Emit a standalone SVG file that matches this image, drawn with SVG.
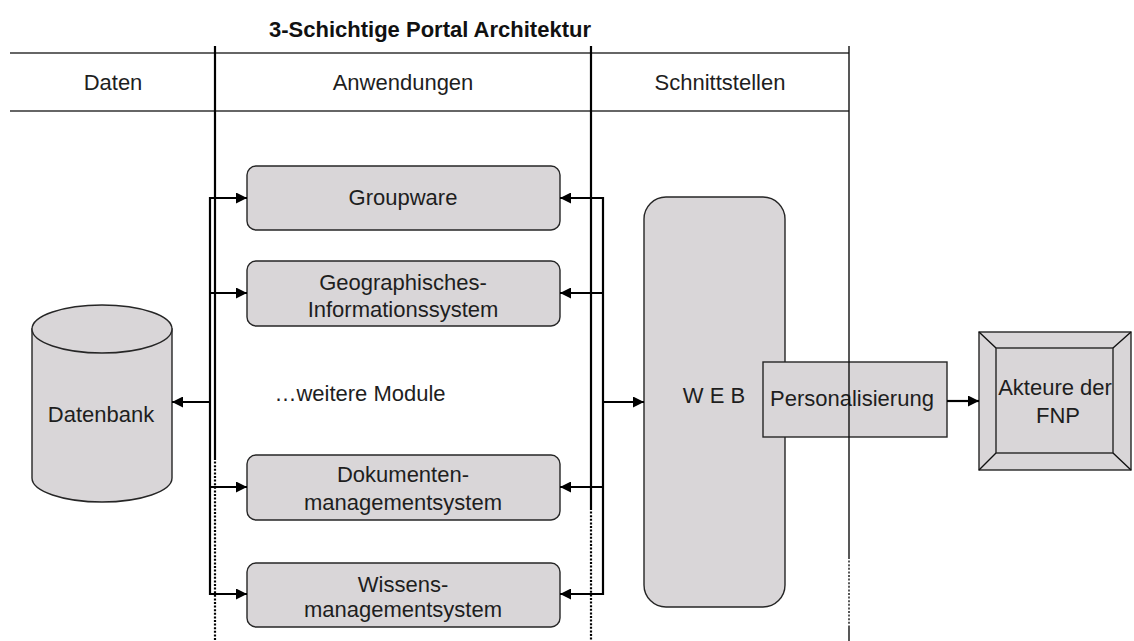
<svg xmlns="http://www.w3.org/2000/svg" width="1134" height="641" viewBox="0 0 1134 641">
  <style>
    text { font-family: "Liberation Sans", Arial, sans-serif; fill: #1e1e1e; }
    .title { font-size: 22px; font-weight: bold; fill: #111; }
    .hdr { font-size: 22px; text-anchor: middle; }
    .lbl { font-size: 22px; text-anchor: middle; }
    .box { fill: #d9d6d8; stroke: #262626; stroke-width: 1.4; }
    .rule { stroke: #333; stroke-width: 1.6; fill: none; }
    .sep { stroke: #000; stroke-width: 2.2; fill: none; }
    .sep-dot { stroke: #000; stroke-width: 2.2; fill: none; stroke-dasharray: 2 1.6; }
    .thin { stroke: #111; stroke-width: 1.4; fill: none; }
    .thin-dot { stroke: #111; stroke-width: 1.4; fill: none; stroke-dasharray: 2 1.6; }
    .bus { stroke: #000; stroke-width: 2.2; fill: none; }
    .arr { stroke: #000; stroke-width: 2.2; fill: none; marker-end: url(#head); }
  </style>
  <defs>
    <marker id="head" markerUnits="userSpaceOnUse" markerWidth="12" markerHeight="11" refX="11" refY="5.5" orient="auto">
      <path d="M0,0 L11,5.5 L0,11 Z" fill="#000"/>
    </marker>
  </defs>

  <rect width="1134" height="641" fill="#fff"/>

  <!-- title and layer header table -->
  <g id="header">
    <text class="title" x="430" y="37" text-anchor="middle">3-Schichtige Portal Architektur</text>
    <line class="rule" x1="10" y1="53" x2="849" y2="53"/>
    <line class="rule" x1="10" y1="111" x2="849" y2="111"/>
    <text class="hdr" x="113" y="90">Daten</text>
    <text class="hdr" x="403" y="90">Anwendungen</text>
    <text class="hdr" x="720" y="90">Schnittstellen</text>
  </g>

  <!-- layer separators -->
  <g id="separators">
    <line class="sep" x1="215" y1="46" x2="215" y2="458"/>
    <line class="sep-dot" x1="215" y1="458" x2="215" y2="641"/>
    <line class="sep" x1="591" y1="46" x2="591" y2="508"/>
    <line class="sep-dot" x1="591" y1="508" x2="591" y2="641"/>
  </g>

  <!-- database -->
  <g id="datenbank">
    <path class="box" d="M32,329 L32,478 A70,24 0 0 0 172,478 L172,329 Z"/>
    <ellipse class="box" cx="102" cy="329" rx="70" ry="24"/>
    <text class="lbl" x="101" y="422">Datenbank</text>
  </g>

  <!-- application modules -->
  <g id="groupware">
    <rect class="box" x="247" y="166" width="313" height="64" rx="9"/>
    <text class="lbl" x="403" y="205">Groupware</text>
  </g>
  <g id="gis">
    <rect class="box" x="247" y="261" width="313" height="65" rx="9"/>
    <text class="lbl" x="403" y="290">Geographisches-</text>
    <text class="lbl" x="403" y="317">Informationssystem</text>
  </g>
  <g id="weitere">
    <text class="lbl" x="360" y="401">…weitere Module</text>
  </g>
  <g id="dms">
    <rect class="box" x="247" y="455" width="313" height="65" rx="9"/>
    <text class="lbl" x="403" y="482">Dokumenten-</text>
    <text class="lbl" x="403" y="510">managementsystem</text>
  </g>
  <g id="wms">
    <rect class="box" x="247" y="563" width="313" height="64" rx="9"/>
    <text class="lbl" x="403" y="592">Wissens-</text>
    <text class="lbl" x="403" y="617">managementsystem</text>
  </g>

  <!-- web interface -->
  <g id="web">
    <rect class="box" x="644" y="197" width="141" height="410" rx="22"/>
    <text class="lbl" x="714" y="403">W E B</text>
  </g>

  <g id="personalisierung">
    <rect class="box" x="763" y="362" width="184" height="75"/>
    <text x="770" y="406" style="font-size:22px">Personalisierung</text>
  </g>

  <!-- right boundary of the interface layer, drawn over the box -->
  <g id="boundary">
    <line class="thin" x1="849" y1="46" x2="849" y2="557"/>
    <line class="thin-dot" x1="849" y1="557" x2="849" y2="627"/>
    <line class="thin" x1="849" y1="627" x2="849" y2="641"/>
  </g>

  <!-- actors -->
  <g id="akteure">
    <rect class="box" x="979" y="332" width="152" height="138"/>
    <rect class="box" x="996" y="348" width="117" height="105"/>
    <path class="thin" d="M979,332 L996,348 M1131,332 L1113,348 M979,470 L996,453 M1131,470 L1113,453"/>
    <text class="lbl" x="1055" y="395">Akteure der</text>
    <text class="lbl" x="1058" y="423">FNP</text>
  </g>

  <!-- connectors -->
  <g id="connectors">
    <!-- data bus -->
    <line class="bus" x1="210" y1="197" x2="210" y2="595"/>
    <line class="arr" x1="209" y1="198" x2="247" y2="198"/>
    <line class="arr" x1="209" y1="293" x2="247" y2="293"/>
    <line class="arr" x1="209" y1="487" x2="247" y2="487"/>
    <line class="arr" x1="209" y1="594" x2="247" y2="594"/>
    <line class="arr" x1="211" y1="402" x2="172" y2="402"/>
    <!-- interface bus -->
    <line class="bus" x1="603" y1="197" x2="603" y2="595"/>
    <line class="arr" x1="604" y1="198" x2="560" y2="198"/>
    <line class="arr" x1="604" y1="293" x2="560" y2="293"/>
    <line class="arr" x1="604" y1="487" x2="560" y2="487"/>
    <line class="arr" x1="604" y1="594" x2="560" y2="594"/>
    <line class="arr" x1="602" y1="402" x2="644" y2="402"/>
    <!-- personalisation to actors -->
    <line class="arr" x1="947" y1="401" x2="979" y2="401"/>
  </g>
</svg>
